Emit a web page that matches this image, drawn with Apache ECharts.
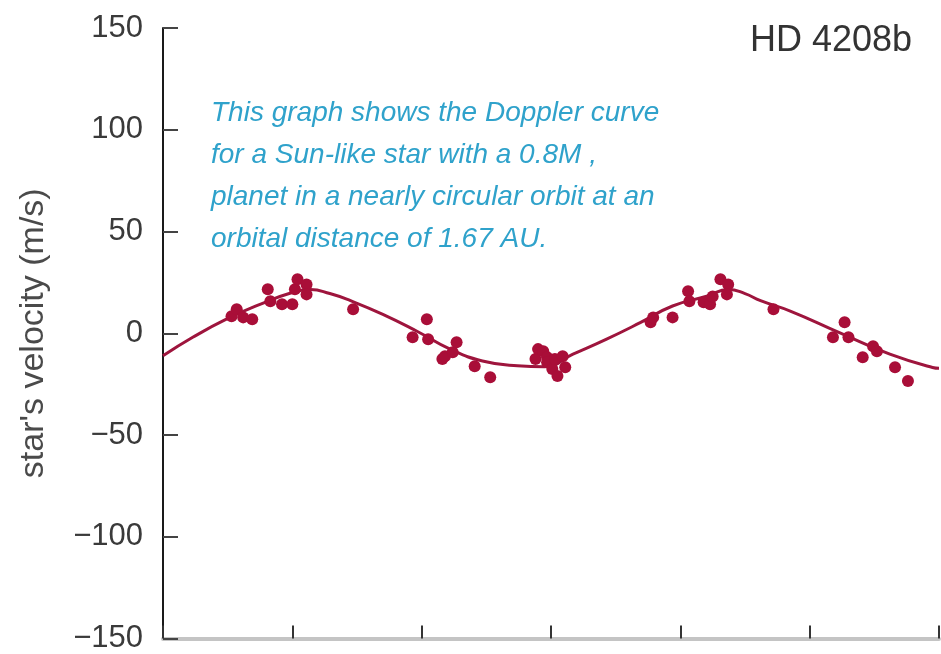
<!DOCTYPE html>
<html>
<head>
<meta charset="utf-8">
<title>HD 4208b radial velocity</title>
<script src="https://cdn.jsdelivr.net/npm/echarts@6/dist/echarts.min.js"></script>
<style>
  html, body { margin: 0; padding: 0; background: #ffffff; }
  #chart { width: 941px; height: 654px; }
</style>
</head>
<body>
<div id="chart"></div>
<script>
// Orbital phase (arbitrary time units) and measured stellar velocity (m/s)
const obsTime = [
  0.53, 0.57, 0.62, 0.69, 0.81, 0.83, 0.92, 1.00, 1.02, 1.04, 1.11, 1.11, 1.47,
  1.93, 2.04, 2.05, 2.16, 2.18, 2.24, 2.27, 2.41, 2.53,
  2.88, 2.90, 2.94, 2.97, 2.97, 3.01, 3.03, 3.05, 3.09, 3.11,
  3.77, 3.79, 3.94, 4.06, 4.07, 4.18, 4.23, 4.25, 4.31, 4.37, 4.36, 4.72,
  5.18, 5.27, 5.30, 5.41, 5.49, 5.52, 5.66, 5.76
];
const obsVelocity = [
  8.3, 11.8, 7.8, 6.9, 21.6, 15.7, 14.2, 14.2, 21.6, 26.5, 24.0, 19.1, 11.8,
  -2.0, 6.9, -2.9, -12.7, -11.3, -9.3, -4.4, -16.2, -21.6,
  -12.7, -7.8, -8.8, -11.8, -14.2, -17.6, -12.7, -21.0, -11.3, -16.7,
  5.4, 7.8, 7.8, 20.6, 15.7, 15.2, 14.2, 18.1, 26.5, 24.0, 19.1, 11.8,
  -2.0, 5.4, -2.0, -11.8, -6.4, -8.8, -16.7, -23.5
];

// Fitted orbit curve
const fitTime = [
  0.00, 0.23, 0.49, 0.75, 1.00, 1.14, 1.29, 1.45, 1.70, 1.96, 2.22, 2.47,
  2.74, 2.95, 3.17, 3.43, 3.69, 3.94, 4.21, 4.37, 4.50, 4.62, 4.85, 5.23,
  5.62, 5.95, 6.00
];
const fitVelocity = [
  -11.1, -2.0, 6.9, 14.2, 20.0, 21.5, 19.5, 16.0, 9.3, 1.1, -7.8, -13.6,
  -16.0, -16.5, -10.3, -2.9, 5.2, 13.4, 18.3, 21.5, 19.5, 16.0, 10.9, 0.3,
  -10.3, -16.8, -17.2
];

const yTicks = [-150, -100, -50, 0, 50, 100, 150];

const pointColor = '#a90e38';
const curveColor = '#9e153d';

const chart = echarts.init(document.getElementById('chart'), null, { renderer: 'canvas' });

chart.setOption({
  backgroundColor: '#ffffff',
  animation: false,
  grid: { left: 163, right: 2, top: 28, bottom: 14, containLabel: false },
  xAxis: {
    type: 'value',
    min: 0,
    max: 6,
    interval: 1,
    axisLine: { show: true, onZero: false, lineStyle: { color: '#c4c4c4', width: 4 } },
    axisTick: { show: true, inside: true, length: 13, lineStyle: { color: '#333333', width: 2 } },
    axisLabel: { show: false },
    splitLine: { show: false }
  },
  yAxis: {
    type: 'value',
    min: yTicks[0],
    max: yTicks[yTicks.length - 1],
    interval: 50,
    name: "star's velocity (m/s)",
    nameLocation: 'middle',
    nameRotate: 90,
    nameGap: 112,
    nameTextStyle: { fontFamily: 'Liberation Sans', fontSize: 34, color: '#4a4a4a' },
    axisLine: { show: true, onZero: false, lineStyle: { color: '#1a1a1a', width: 2 } },
    axisTick: { show: true, inside: true, length: 15, lineStyle: { color: '#444444', width: 2 } },
    axisLabel: {
      margin: 20,
      fontFamily: 'Liberation Sans',
      fontSize: 31,
      color: '#3a3a3a',
      formatter: v => String(v).replace('-', '\u2212')
    },
    splitLine: { show: false }
  },
  graphic: [
    {
      type: 'text',
      left: 211,
      top: 92,
      style: {
        text: 'This graph shows the Doppler curve\nfor a Sun-like star with a 0.8M ,\nplanet in a nearly circular orbit at an\norbital distance of 1.67 AU.',
        font: 'italic 28px "Liberation Sans"',
        lineHeight: 42,
        fill: '#2fa2cb'
      }
    },
    {
      type: 'text',
      right: 29,
      top: 23,
      style: {
        text: 'HD 4208b',
        font: '36px "Liberation Sans"',
        fill: '#333333'
      }
    }
  ],
  series: [
    {
      type: 'line',
      data: fitTime.map((t, i) => [t, fitVelocity[i]]),
      smooth: 0.5,
      showSymbol: false,
      lineStyle: { color: curveColor, width: 3 },
      z: 2
    },
    {
      type: 'scatter',
      data: obsTime.map((t, i) => [t, obsVelocity[i]]),
      symbol: 'circle',
      symbolSize: 12,
      itemStyle: { color: pointColor, opacity: 1 },
      z: 3
    }
  ]
});
</script>
</body>
</html>
